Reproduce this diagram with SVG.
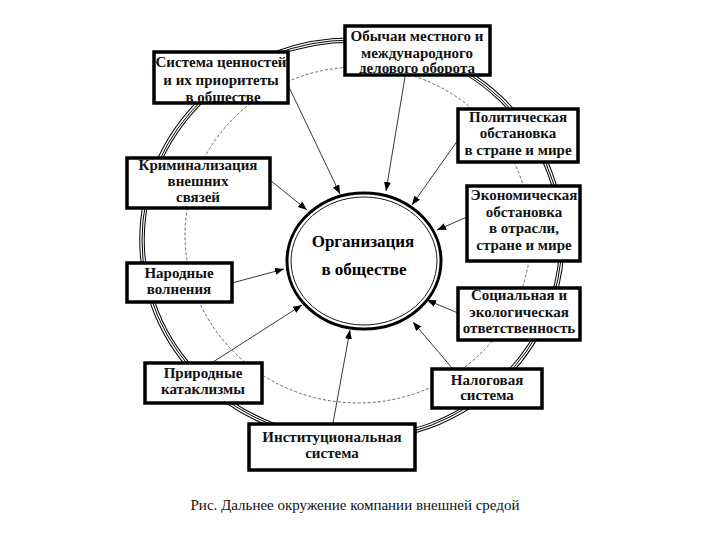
<svg xmlns="http://www.w3.org/2000/svg" width="720" height="540" viewBox="0 0 720 540">
<style>
.box{fill:#fff;stroke:#000;stroke-width:3.5}
.t{font-family:'Liberation Serif','DejaVu Serif',serif;font-weight:bold;font-size:15px;fill:#111;text-anchor:middle}
.ct{font-family:'Liberation Serif','DejaVu Serif',serif;font-weight:bold;font-size:17px;fill:#000;text-anchor:middle}
.cap{font-family:'Liberation Serif','DejaVu Serif',serif;font-size:15px;fill:#111;text-anchor:middle}
.conn{stroke:#222;stroke-width:0.9;fill:none;marker-end:url(#ah)}
</style>
<defs>
<marker id="ah" markerUnits="userSpaceOnUse" markerWidth="10" markerHeight="8" refX="9" refY="3.5" orient="auto">
<path d="M0,0 L9,3.5 L0,7 z" fill="#000"/>
</marker>
</defs>
<rect width="720" height="540" fill="#fff"/>
<g id="outer-ring" fill="none">
<ellipse cx="352" cy="240" rx="210" ry="200" stroke="#000" stroke-width="5.5"/>
<ellipse cx="352" cy="240" rx="210" ry="200" stroke="#fff" stroke-width="3.5"/>
<ellipse cx="352" cy="240" rx="210" ry="200" stroke="#000" stroke-width="1"/>
</g>
<ellipse id="inner-ring" cx="358" cy="235" rx="173" ry="168" fill="none" stroke="#444" stroke-width="0.8" stroke-dasharray="3 2"/>
<g id="center">
<ellipse cx="364" cy="261" rx="77" ry="68" fill="#fff" stroke="#000" stroke-width="3"/>
<ellipse cx="364" cy="261" rx="73" ry="64" fill="none" stroke="#000" stroke-width="0.9"/>
<text class="ct" x="363" y="247">Организация</text>
<text class="ct" x="364" y="275">в обществе</text>
</g>
<g id="connectors">
<line class="conn" x1="288" y1="85" x2="340" y2="194"/>
<line class="conn" x1="405" y1="77" x2="386" y2="191"/>
<line class="conn" x1="458" y1="140" x2="412" y2="205"/>
<line class="conn" x1="467" y1="217" x2="437" y2="230"/>
<line class="conn" x1="458" y1="313" x2="427" y2="300"/>
<line class="conn" x1="452" y1="368" x2="413" y2="322"/>
<line class="conn" x1="333" y1="423" x2="350" y2="330"/>
<line class="conn" x1="213" y1="362" x2="302" y2="305"/>
<line class="conn" x1="232" y1="283" x2="284" y2="269"/>
<line class="conn" x1="270" y1="180" x2="307" y2="210"/>
</g>
<g id="n-values">
<rect class="box" x="154" y="52" width="134" height="51"/>
<text class="t" x="221" y="67">Система ценностей</text>
<text class="t" x="221" y="85">и их приоритеты</text>
<text class="t" x="223" y="102">в обществе</text>
</g>
<g id="n-customs">
<rect class="box" x="345" y="26" width="145" height="49"/>
<text class="t" x="417" y="41">Обычаи местного и</text>
<text class="t" x="417" y="57.5">международного</text>
<text class="t" x="417" y="73">делового оборота</text>
</g>
<g id="n-political">
<rect class="box" x="458" y="109" width="120" height="53"/>
<text class="t" x="518" y="122">Политическая</text>
<text class="t" x="518" y="138">обстановка</text>
<text class="t" x="518" y="155">в стране и мире</text>
</g>
<g id="n-economic">
<rect class="box" x="467" y="186" width="113" height="75"/>
<text class="t" x="524" y="200">Экономическая</text>
<text class="t" x="524" y="217">обстановка</text>
<text class="t" x="524" y="233">в отрасли,</text>
<text class="t" x="524" y="250">стране и мире</text>
</g>
<g id="n-social">
<rect class="box" x="458" y="288" width="122" height="52"/>
<text class="t" x="519" y="300">Социальная и</text>
<text class="t" x="519" y="317">экологическая</text>
<text class="t" x="519" y="333">ответственность</text>
</g>
<g id="n-tax">
<rect class="box" x="432" y="369" width="110" height="39"/>
<text class="t" x="487" y="385">Налоговая</text>
<text class="t" x="487" y="400">система</text>
</g>
<g id="n-institutional">
<rect class="box" x="249" y="424" width="166" height="46"/>
<text class="t" x="332" y="442">Институциональная</text>
<text class="t" x="332" y="458">система</text>
</g>
<g id="n-natural">
<rect class="box" x="145" y="363" width="117" height="40"/>
<text class="t" x="203" y="378">Природные</text>
<text class="t" x="203" y="394">катаклизмы</text>
</g>
<g id="n-unrest">
<rect class="box" x="127" y="263" width="105" height="39"/>
<text class="t" x="179" y="278">Народные</text>
<text class="t" x="179" y="294">волнения</text>
</g>
<g id="n-crime">
<rect class="box" x="127" y="158" width="143" height="50"/>
<text class="t" x="198" y="170">Криминализация</text>
<text class="t" x="198" y="186">внешних</text>
<text class="t" x="198" y="202">связей</text>
</g>
<text class="cap" x="355" y="510">Рис. Дальнее окружение компании внешней средой</text>
</svg>
